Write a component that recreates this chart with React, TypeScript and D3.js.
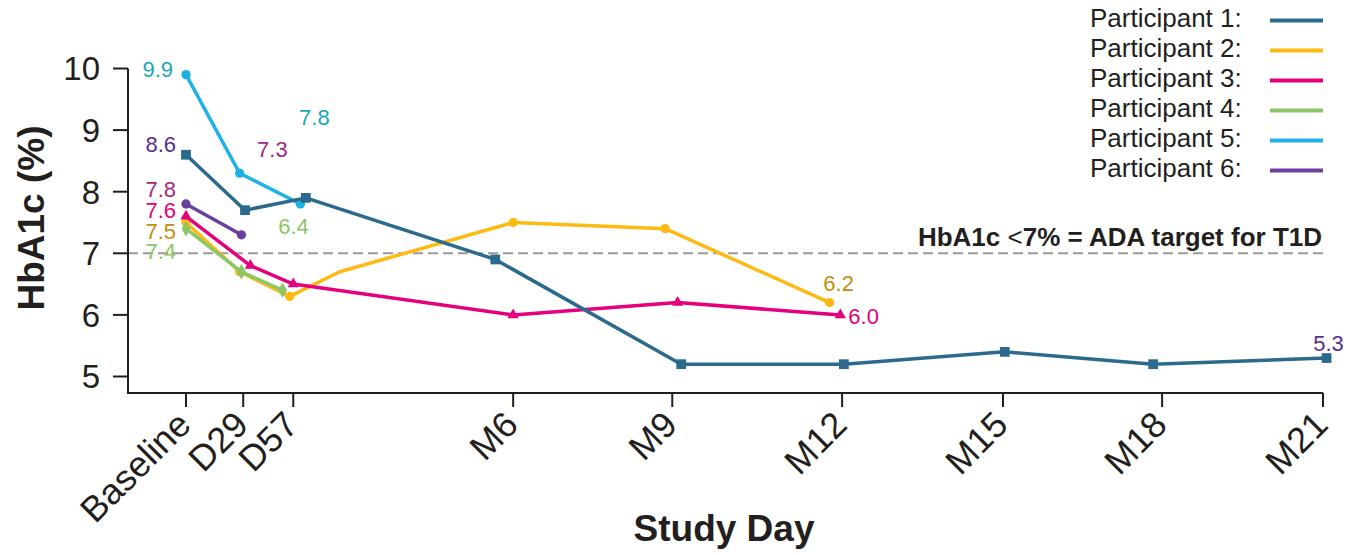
import React from "react";
import * as d3 from "d3";

// ---------- data ----------
const tickLabels = ["Baseline", "D29", "D57", "M6", "M9", "M12", "M15", "M18", "M21"];
const tickDays = [0, 32, 60, 183, 272, 367, 457, 546, 636];
const yTicks = [5, 6, 7, 8, 9, 10];

const seriesNames = ["Participant 1:", "Participant 2:", "Participant 3:", "Participant 4:", "Participant 5:", "Participant 6:"];
const seriesColors = ["#2c6a8d", "#fdba12", "#e5007d", "#8cc666", "#1db1e7", "#6b3fa0"];
const seriesSymbols = ["square", "circle", "triangle", "diamond", "circle", "circle"];

const p1Days = [0, 33, 67, 173, 277, 368, 458, 541, 638];
const p1Values = [8.6, 7.7, 7.9, 6.9, 5.2, 5.2, 5.4, 5.2, 5.3];
const p2Days = [0, 30, 58, 86, 183, 268, 360];
const p2Values = [7.5, 6.7, 6.3, 6.7, 7.5, 7.4, 6.2];
const p2Marked = [true, true, true, false, true, true, true];
const p3Days = [0, 36, 60, 183, 275, 366];
const p3Values = [7.6, 6.8, 6.5, 6.0, 6.2, 6.0];
const p4Days = [0, 31, 54];
const p4Values = [7.4, 6.7, 6.4];
const p5Days = [0, 30, 64];
const p5Values = [9.9, 8.3, 7.8];
const p6Days = [0, 31];
const p6Values = [7.8, 7.3];

const targetValue = 7;

// value annotations: series index, point index, text, colour
const labelSeries = [4, 0, 5, 2, 1, 3, 5, 4, 3, 1, 2, 0];
const labelPoint = [0, 0, 0, 0, 0, 0, 1, 2, 2, 6, 5, 8];
const labelTexts = ["9.9", "8.6", "7.8", "7.6", "7.5", "7.4", "7.3", "7.8", "6.4", "6.2", "6.0", "5.3"];
const labelColors = ["#17a8b8", "#5c2d91", "#a0287f", "#e5007d", "#c28e0e", "#8cc666", "#a0287f", "#17a8b8", "#8cc666", "#c28e0e", "#e5007d", "#5c2d91"];

// ---------- layout / style ----------
const W = 1347;
const H = 555;
const FONT = "'Liberation Sans', Arial, Helvetica, sans-serif";
const INK = "#231f20";
const labelDx = [-13, -10, -10, -10, -10, -10, 31, 14, 11, 9, 8, 2];
const labelDy = [2.5, -2.3, -7, 1.7, 16, 30.7, -78, -78.7, -56, -11.6, 9, -7];
const labelAnchor = ["end", "end", "end", "end", "end", "end", "middle", "middle", "middle", "middle", "start", "middle"];

export default function App() {
  const x = d3.scaleLinear().domain([0, 636]).range([186, 1323]);
  const y = d3.scaleLinear().domain([5, 10]).range([376.5, 68.5]);
  const axisLeft = 128;
  const axisBottom = 393;
  const axisRight = x(636);

  const series = [
    { days: p1Days, values: p1Values, marked: p1Days.map(() => true) },
    { days: p2Days, values: p2Values, marked: p2Marked },
    { days: p3Days, values: p3Values, marked: p3Days.map(() => true) },
    { days: p4Days, values: p4Values, marked: p4Days.map(() => true) },
    { days: p5Days, values: p5Values, marked: p5Days.map(() => true) },
    { days: p6Days, values: p6Values, marked: p6Days.map(() => true) },
  ];
  const drawOrder = [4, 1, 3, 2, 5, 0];

  const line = d3
    .line<[number, number]>()
    .x((d) => x(d[0]))
    .y((d) => y(d[1]));

  const symbolFor = (name: string) => {
    if (name === "square") return d3.symbol().type(d3.symbolSquare).size(95)();
    if (name === "triangle") return d3.symbol().type(d3.symbolTriangle).size(55)();
    if (name === "diamond") return d3.symbol().type(d3.symbolDiamond).size(70)();
    return d3.symbol().type(d3.symbolCircle).size(68)();
  };

  return (
    <svg
      width={W}
      height={H}
      style={{ position: "absolute", left: 0, top: 0, background: "#fff" }}
      fontFamily={FONT}
    >
      {/* target line */}
      <line
        x1={axisLeft}
        x2={axisRight}
        y1={y(targetValue)}
        y2={y(targetValue)}
        stroke="#9a9a9a"
        strokeWidth={2}
        strokeDasharray="10 5"
      />
      <text x={1322} y={y(targetValue) - 7} textAnchor="end" fontSize={26} fontWeight="bold" fill={INK}>
        HbA1c <tspan fontWeight="normal">&lt;</tspan>7% = ADA target for T1D
      </text>

      {/* axes */}
      <line x1={axisLeft} x2={axisLeft} y1={y(10)} y2={axisBottom} stroke={INK} strokeWidth={2} />
      <line x1={axisLeft - 1} x2={axisRight} y1={axisBottom} y2={axisBottom} stroke={INK} strokeWidth={2} />
      {yTicks.map((t) => (
        <g key={"y" + t}>
          <line x1={axisLeft - 15} x2={axisLeft} y1={y(t)} y2={y(t)} stroke={INK} strokeWidth={2} />
          <text x={100} y={y(t)} dy="0.36em" textAnchor="end" fontSize={33} fill={INK}>
            {t}
          </text>
        </g>
      ))}
      {tickDays.map((d, i) => (
        <g key={"x" + i}>
          <line x1={x(d)} x2={x(d)} y1={axisBottom} y2={axisBottom + 14} stroke={INK} strokeWidth={2} />
          <text
            transform={`translate(${x(d) - 2},${axisBottom + 25}) rotate(-45)`}
            dy="0.35em"
            textAnchor="end"
            fontSize={36}
            fill={INK}
          >
            {tickLabels[i]}
          </text>
        </g>
      ))}
      <text
        transform={`translate(44,218) rotate(-90)`}
        textAnchor="middle"
        fontSize={37}
        fontWeight="bold"
        fill={INK}
      >
        HbA1c (%)
      </text>
      <text x={724} y={541} textAnchor="middle" fontSize={37} fontWeight="bold" fill={INK}>
        Study Day
      </text>

      {/* series */}
      {drawOrder.map((si) => {
        const s = series[si];
        const pts: [number, number][] = s.days.map((d, j) => [d, s.values[j]]);
        return (
          <g key={"s" + si}>
            <path d={line(pts) || ""} fill="none" stroke={seriesColors[si]} strokeWidth={3.5} strokeLinejoin="round" />
            {pts.map((p, j) =>
              s.marked[j] ? (
                <path
                  key={j}
                  d={symbolFor(seriesSymbols[si]) || ""}
                  transform={`translate(${x(p[0])},${y(p[1])})`}
                  fill={seriesColors[si]}
                />
              ) : null
            )}
          </g>
        );
      })}

      {/* value labels */}
      {labelTexts.map((t, i) => {
        const s = series[labelSeries[i]];
        const j = labelPoint[i];
        return (
          <text
            key={"l" + i}
            x={x(s.days[j]) + labelDx[i]}
            y={y(s.values[j]) + labelDy[i]}
            textAnchor={labelAnchor[i] as any}
            fontSize={22}
            fill={labelColors[i]}
          >
            {t}
          </text>
        );
      })}

      {/* legend */}
      {seriesNames.map((n, i) => (
        <g key={"lg" + i}>
          <text x={1090} y={27 + i * 30} fontSize={26} fill={INK}>
            {n}
          </text>
          <line x1={1270} x2={1323} y1={20.5 + i * 30} y2={20.5 + i * 30} stroke={seriesColors[i]} strokeWidth={4} />
        </g>
      ))}
    </svg>
  );
}
